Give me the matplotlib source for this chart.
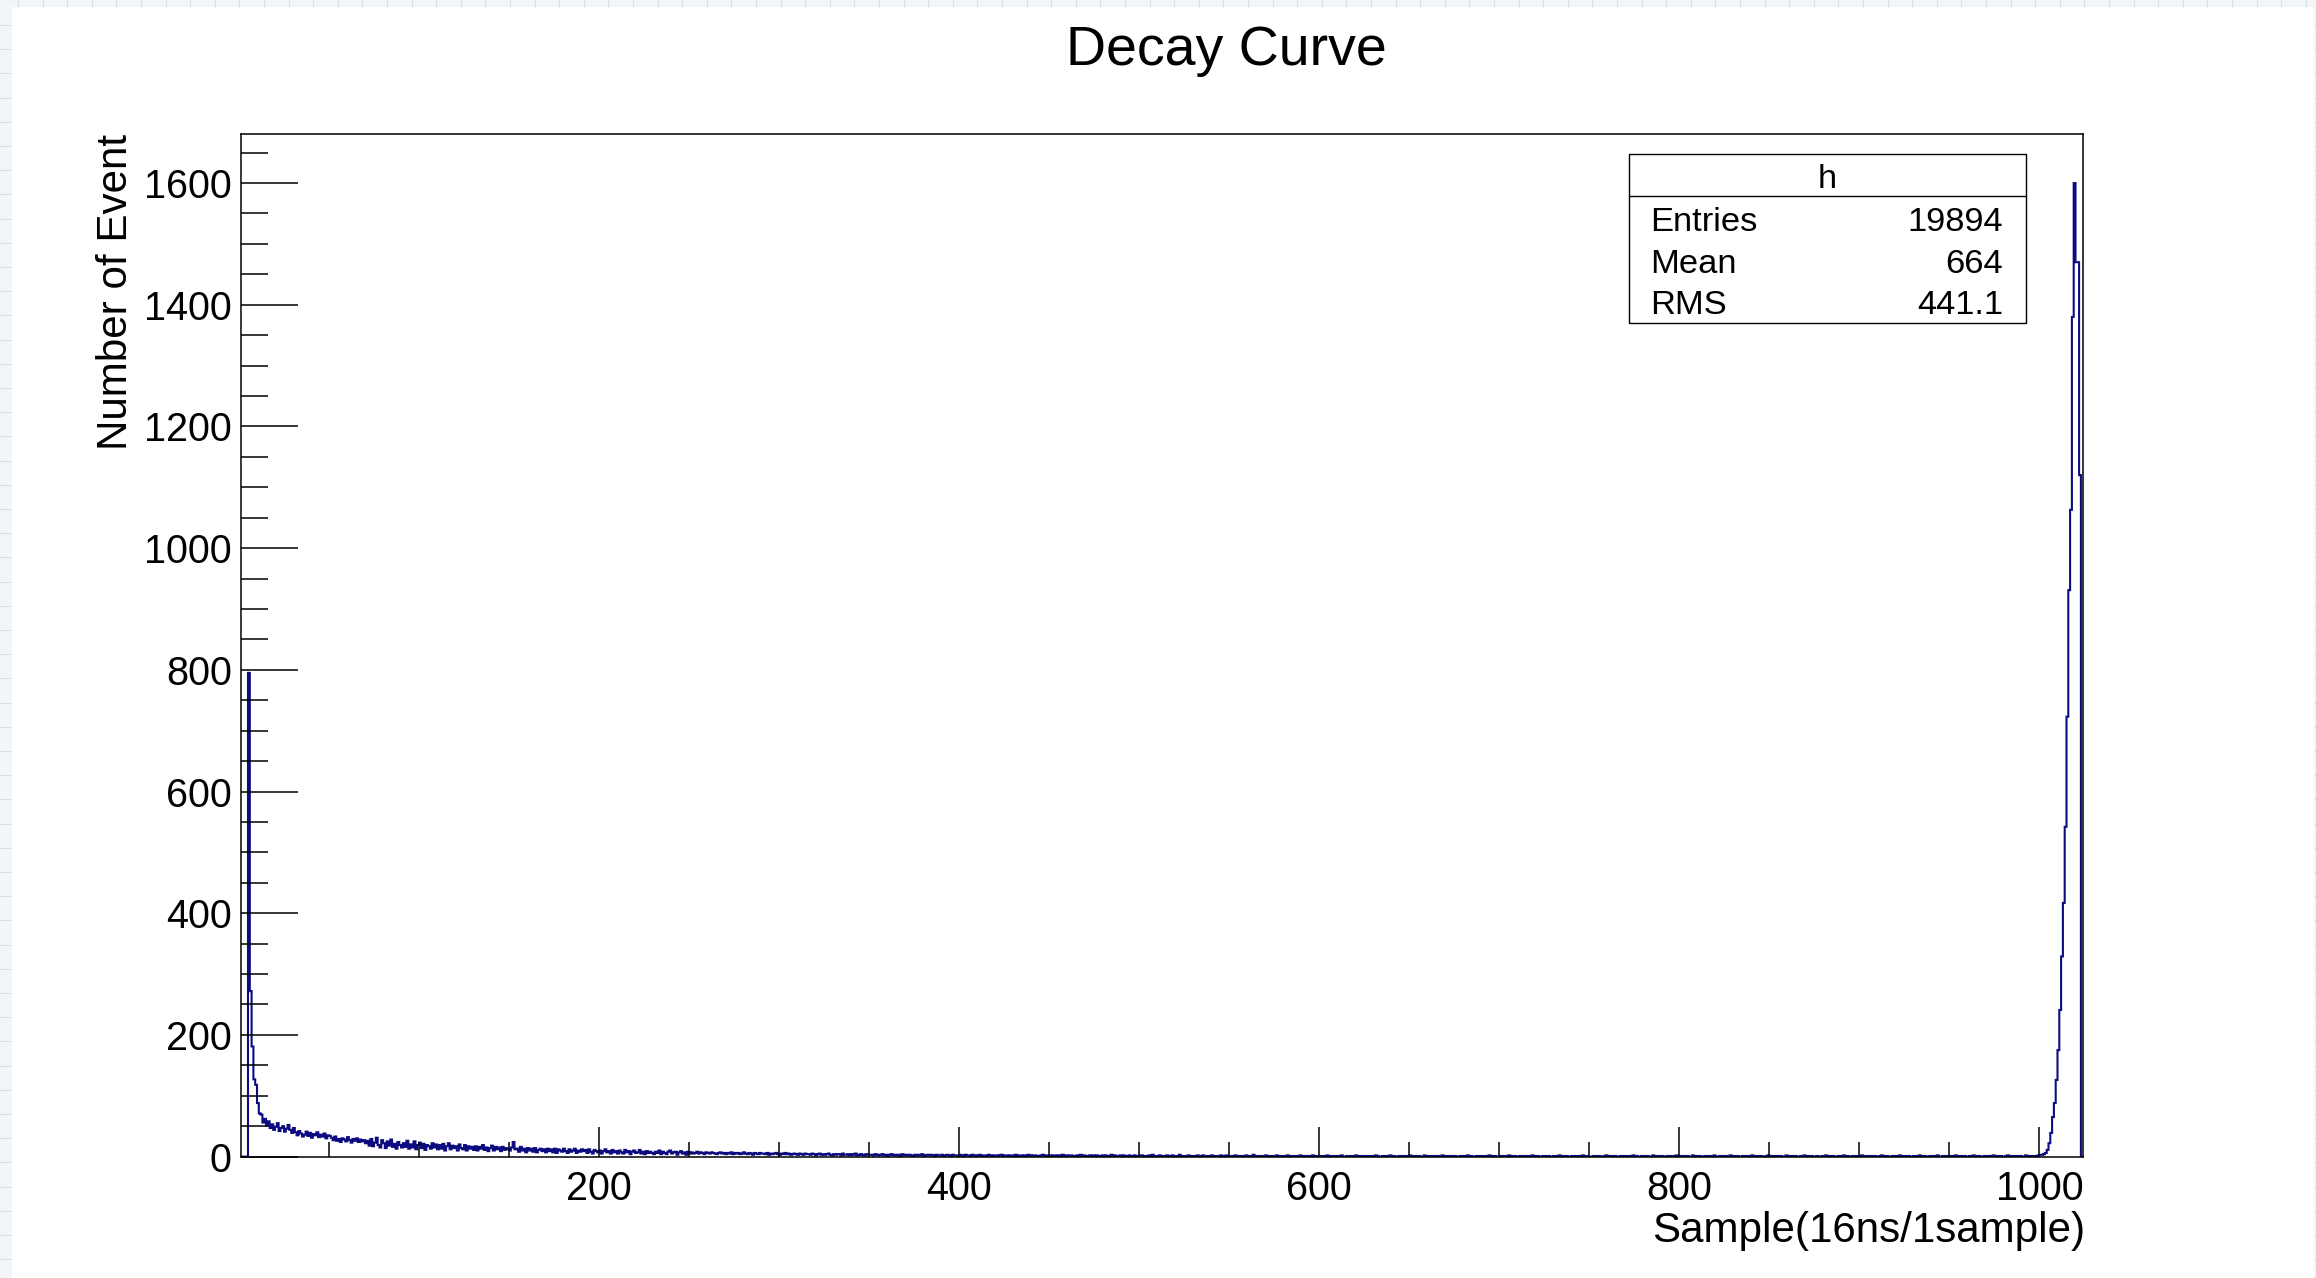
import numpy as np
import matplotlib
matplotlib.use("Agg")
import matplotlib.pyplot as plt
from matplotlib.lines import Line2D
from matplotlib.patches import Rectangle
from matplotlib.ticker import MultipleLocator

plt.rcParams['font.family'] = ['Liberation Sans', 'DejaVu Sans']

# ---------------- histogram contents (one value per sample bin) ----------------
first_bin = 1

# bins 1 - 100 : start spike and fast decay
counts_head = [0, 0, 0, 0,
               795, 272, 181, 127, 118, 88, 71, 69, 56, 62,
               51, 58, 47, 53, 44, 49, 55, 42, 47, 50, 41, 46, 52, 44, 39, 47,
               40, 35, 42, 38, 33, 36, 41, 34, 39, 31, 37, 35, 40, 32, 36, 33, 38, 30, 35, 34,
               31, 27, 33, 26, 29, 24, 30, 28, 25, 32, 27, 23, 29, 26, 30, 24, 28, 25, 27, 22,
               26, 18, 29, 17, 23, 31, 19, 15, 27, 22, 14, 25, 18, 28, 16, 21, 13, 24, 19, 15,
               22, 16, 26, 13, 20, 15, 25, 12, 19, 23]

# bins 101 - 500 : slow tail
counts_mid = [14, 21, 11, 19, 17, 13, 22, 15, 20, 12,
              19, 13, 21, 10, 17, 22, 12, 18, 14, 17, 10, 20, 14, 12, 19, 10, 17, 13, 16, 11,
              17, 10, 16, 13, 19, 11, 15, 9, 14, 18, 10, 16, 12, 15, 9, 16, 11, 14, 12, 10,
              15, 24, 12, 13, 8, 16, 10, 13, 7, 14, 10, 13, 8, 14, 7, 11, 13, 9, 12, 7,
              13, 9, 12, 7, 13, 6, 12, 10, 8, 13, 9, 6, 12, 8, 10, 13, 6, 10, 8, 12,
              9, 11, 6, 12, 8, 5, 11, 9, 7, 10, 5, 9, 12, 7, 9, 5, 11, 7, 9, 5,
              10, 7, 5, 11, 7, 9, 4, 8, 10, 6, 7, 11, 5, 8, 4, 9, 6, 8, 6, 4,
              8, 6, 10, 4, 8, 6, 4, 8, 10, 5, 7, 8, 3, 7, 9, 5, 7, 3, 8, 5,
              7, 5, 6, 8, 5, 7, 6, 4, 7, 6, 5, 7, 6, 5, 4, 6, 7, 5, 6, 4,
              6, 5, 7, 4, 6, 5, 6, 4, 5, 7, 5, 4, 6, 5, 3, 6, 5, 4, 6, 5,
              5, 4, 6, 3, 5, 4, 5, 6, 4, 3, 5, 4, 6, 4, 5, 3, 4, 5, 4, 3,
              5, 4, 3, 5, 4, 4, 3, 5, 4, 2, 4, 5, 3, 4, 3, 4, 5, 3, 2, 4,
              3, 4, 4, 2, 5, 3, 3, 4, 2, 4, 3, 5, 2, 3, 4, 3, 2, 4, 3, 3,
              3, 2, 4, 3, 2, 3, 4, 2, 3, 1, 3, 4, 2, 3, 2, 3, 1, 4, 2, 3, 2, 3, 2, 1, 3,
              2, 3, 2, 4, 1, 2, 3, 2, 3, 2, 1, 3, 2, 2, 3, 1, 2, 3, 2, 1, 3, 2, 2, 1, 3,
              2, 1, 3, 2, 2, 1, 3, 2, 1, 2, 3, 1, 2, 2, 1, 3, 2, 1, 2, 2, 1, 2, 3, 1, 2,
              2, 1, 2, 2, 1, 3, 1, 2, 2, 1, 2, 1, 3, 2, 1, 2, 2, 1, 1, 2, 3, 1, 2, 1, 2,
              1, 2, 2, 1, 2, 1, 3, 1, 2, 1, 2, 2, 1, 1, 2, 1, 3, 1, 2, 1, 1, 2, 1, 2, 1,
              2, 1, 1, 2, 1, 2, 1, 1, 3, 1, 2, 1, 1, 2, 1, 2, 1, 1, 2, 1, 1, 2, 1, 1, 2]

# bins 501 - 1000 : flat, almost empty
counts_far = [2, 1, 1, 0, 2, 1, 3, 1, 0, 1, 2, 1, 1, 0, 2, 1, 1, 2, 0, 1, 1, 3, 1, 0, 1,
              1, 2, 0, 1, 1, 0, 2, 1, 1, 2, 0, 1, 0, 1, 2, 1, 0, 1, 1, 2, 1, 0, 2, 1, 1,
              0, 1, 2, 1, 0, 1, 1, 0, 2, 1, 0, 1, 3, 1, 0, 1, 1, 0, 1, 2, 0, 1, 1, 0, 1,
              2, 0, 1, 1, 0, 1, 2, 0, 1, 0, 1, 1, 0, 2, 1, 0, 1, 0, 1, 1, 2, 0, 1, 0, 1,
              1, 0, 1, 2, 0, 1, 0, 1, 1, 0, 1, 2, 0, 0, 1, 1, 0, 1, 0, 2, 1, 0, 1, 1, 0,
              1, 1, 0, 1, 0, 2, 1, 0, 0, 1, 1, 0, 1, 2, 0, 1, 0, 0, 1, 1, 0, 1, 0, 1, 2,
              0, 1, 0, 1, 1, 0, 0, 2, 1, 0, 1, 0, 1, 0, 1, 1, 0, 2, 0, 1, 0, 1, 1, 0, 1,
              0, 0, 1, 1, 0, 1, 2, 0, 1, 0, 0, 1, 1, 0, 1, 0, 1, 0, 2, 1, 0, 1, 0, 0, 1,
              1, 0, 1, 0, 2, 0, 1, 1, 0, 0, 1, 0, 1, 1, 0, 1, 0, 2, 0, 1, 1, 0, 0, 1, 0,
              1, 1, 0, 0, 1, 0, 1, 2, 0, 1, 0, 1, 0, 0, 1, 1, 0, 1, 0, 1, 2, 0, 1, 0, 0,
              0, 1, 1, 0, 1, 0, 0, 1, 2, 0, 1, 0, 1, 1, 0, 0, 1, 0, 1, 0, 1, 1, 0, 2, 0,
              1, 0, 0, 1, 1, 0, 1, 0, 0, 2, 1, 0, 1, 0, 1, 0, 0, 1, 1, 0, 1, 0, 2, 0, 1,
              0, 1, 0, 1, 0, 0, 2, 1, 0, 1, 1, 0, 0, 1, 0, 1, 0, 1, 2, 0, 0, 1, 0, 1, 1,
              0, 1, 2, 0, 1, 0, 1, 0, 0, 1, 1, 0, 1, 0, 2, 0, 1, 0, 1, 1, 0, 0, 1, 2, 0,
              1, 0, 1, 0, 1, 1, 0, 0, 2, 0, 1, 1, 0, 1, 0, 0, 1, 0, 2, 1, 0, 1, 1, 0, 0,
              1, 0, 0, 1, 0, 2, 1, 0, 1, 1, 0, 0, 1, 0, 1, 2, 0, 1, 0, 0, 1, 1, 0, 1, 0,
              2, 0, 1, 0, 1, 1, 0, 1, 0, 0, 1, 2, 0, 1, 1, 0, 0, 1, 0, 1, 0, 2, 1, 0, 1,
              0, 1, 0, 0, 1, 1, 0, 2, 1, 0, 1, 0, 0, 1, 1, 0, 1, 2, 0, 0, 1, 0, 1, 1, 0,
              1, 0, 2, 0, 1, 0, 1, 1, 0, 0, 1, 0, 2, 1, 0, 1, 0, 0, 1, 1, 0, 1, 0, 2, 1,
              0, 1, 1, 0, 0, 1, 2, 0, 1, 0, 1, 1, 0, 1, 0, 0, 2, 1, 0, 1, 1, 0, 1, 2, 3]

# bins 1001 - 1023 : end peak
counts_peak = [3, 4, 6, 11, 22, 39, 65, 88, 126, 175, 241, 329, 417, 542, 723,
               931, 1063, 1380, 1600, 1470, 1470, 1120, 0]

stats_name = "h"
stats_labels = ["Entries", "Mean", "RMS"]
stats_values = ["19894", "664", "441.1"]

counts = np.array(counts_head + counts_mid + counts_far + counts_peak)
edges = np.arange(first_bin, first_bin + len(counts) + 1)

# ---------------- figure ----------------
W, H = 2316, 1278
fig = plt.figure(figsize=(W / 100, H / 100), dpi=100)
fig.patch.set_facecolor('#f3f6f9')

# grid paper visible around the canvas
for gx in np.arange(18, W, 24.6):
    fig.add_artist(Line2D([gx / W, gx / W], [0, 1], color='#d3dee8', lw=0.8, zorder=-3))
for gy in np.arange(25, H, 24.2):
    fig.add_artist(Line2D([0, 1], [1 - gy / H, 1 - gy / H], color='#d3dee8', lw=0.8, zorder=-3))
fig.add_artist(Rectangle((11.7 / W, 0), (2314 - 11.7) / W, 1 - 6.7 / H,
                         transform=fig.transFigure, facecolor='white', edgecolor='none', zorder=-1))

ax = fig.add_axes([240.8 / W, (H - 1156.6) / H, 1841.9 / W, 1022.2 / H])
ax.set_facecolor('white')
ax.stairs(counts, edges, color='#0c0c80', lw=1.5)

ax.set_xlim(1, 1024)
ax.set_ylim(0, 1680)

ax.xaxis.set_major_locator(MultipleLocator(200))
ax.xaxis.set_minor_locator(MultipleLocator(50))
ax.yaxis.set_major_locator(MultipleLocator(200))
ax.yaxis.set_minor_locator(MultipleLocator(50))

ax.tick_params(axis='x', which='major', direction='in', length=21.6, width=1.1,
               labelsize=28.5, pad=9.5, top=False)
ax.tick_params(axis='x', which='minor', direction='in', length=10.8, width=1.1, top=False)
ax.tick_params(axis='y', which='major', direction='in', length=41, width=1.1,
               labelsize=28.5, pad=6.5, right=False)
ax.tick_params(axis='y', which='minor', direction='in', length=19.5, width=1.1, right=False)
for s in ax.spines.values():
    s.set_linewidth(1.1)

ax.set_xlabel("Sample(16ns/1sample)", fontsize=30.3, loc='right')
ax.xaxis.set_label_coords(1.0015, -0.0536)
ax.set_ylabel("Number of Event", fontsize=30.3, loc='top')
ax.yaxis.set_label_coords(-0.0568, 1.0)

fig.text(1226 / W, 1 - 65 / H, "Decay Curve", fontsize=40, ha='center', va='baseline')

# ---------------- stats box ----------------
bx0, bx1 = 0.7538, 0.9692
by0, by1 = 0.8152, 0.9808
ax.add_patch(Rectangle((bx0, by0), bx1 - bx0, by1 - by0, transform=ax.transAxes,
                       facecolor='white', edgecolor='black', lw=1.0, zorder=5))
ax.plot([bx0, bx1], [0.9397, 0.9397], transform=ax.transAxes, color='black', lw=1.0, zorder=6)
ax.text((bx0 + bx1) / 2, 0.9473, stats_name, transform=ax.transAxes, fontsize=24.8,
        ha='center', va='baseline', zorder=7)
row_y = [0.9058, 0.8641, 0.8243]
for lab, val, yy in zip(stats_labels, stats_values, row_y):
    ax.text(0.7651, yy, lab, transform=ax.transAxes, fontsize=24.8, ha='left', va='baseline', zorder=7)
    ax.text(0.9569, yy, val, transform=ax.transAxes, fontsize=24.8, ha='right', va='baseline', zorder=7)

fig.savefig("out.png", dpi=100, facecolor=fig.get_facecolor())
